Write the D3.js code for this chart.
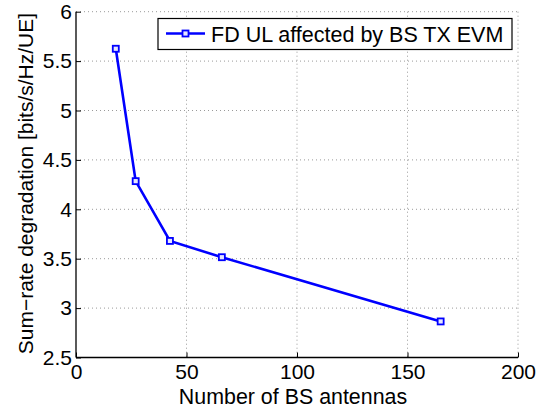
<!DOCTYPE html>
<html><head><meta charset="utf-8">
<script src="https://cdn.jsdelivr.net/npm/d3@7"></script>
<style>body{margin:0;background:#fff}svg{display:block}</style>
</head><body>
<svg id="c" width="538" height="412"></svg>
<script>
const antennas = [18, 27, 42.5, 66, 165];
const degradation = [5.625, 4.285, 3.68, 3.515, 2.865];
const xTicks = [0, 50, 100, 150, 200];
const yTicks = [2.5, 3, 3.5, 4, 4.5, 5, 5.5, 6];
const seriesName = "FD UL affected by BS TX EVM";
const xLabel = "Number of BS antennas";
const yLabel = "Sum\u2212rate degradation [bits/s/Hz/UE]";

const svg = d3.select("#c");
const L = 76, R = 518, T = 11.7, B = 357.5;
const x = d3.scaleLinear().domain([0, 200]).range([L, R]);
const y = d3.scaleLinear().domain([2.5, 6]).range([B, T]);
const font = "Liberation Sans, Arial, Helvetica, sans-serif";

// grid
const g = svg.append("g");
g.selectAll("line.gx").data(xTicks.slice(1)).join("line")
  .attr("x1", d => x(d)).attr("x2", d => x(d)).attr("y1", T).attr("y2", B)
  .attr("stroke", "#9a9a9a").attr("stroke-width", 1).attr("stroke-dasharray", "1,3");
g.selectAll("line.gy").data(yTicks.slice(1)).join("line")
  .attr("y1", d => y(d)).attr("y2", d => y(d)).attr("x1", L).attr("x2", R)
  .attr("stroke", "#9a9a9a").attr("stroke-width", 1).attr("stroke-dasharray", "1,3");

// axes
const xAxis = d3.axisBottom(x).tickValues(xTicks).tickSize(-5).tickPadding(7).tickFormat(d3.format("d"));
const yAxis = d3.axisLeft(y).tickValues(yTicks).tickSize(-5).tickPadding(4).tickFormat(d => d3.format("")(d));
const gx = svg.append("g").attr("transform", `translate(0,${B})`).call(xAxis);
const gy = svg.append("g").attr("transform", `translate(${L},0)`).call(yAxis);
[gx, gy].forEach(a => {
  a.select(".domain").attr("stroke", "#000").attr("stroke-width", 1.3);
  a.selectAll(".tick line").attr("stroke", "#000");
  a.selectAll(".tick text").attr("font-family", font).attr("font-size", 21).attr("fill", "#000");
});
gy.select(".domain").attr("d", `M0,${B}V${T}`);
gx.select(".domain").attr("d", `M${L},0H${R}`);

// labels
svg.append("text").attr("x", (L + R) / 2 - 4).attr("y", 403.5).attr("text-anchor", "middle")
  .attr("font-family", font).attr("font-size", 21.4).text(xLabel);
svg.append("text").attr("transform", `translate(33,${(T + B) / 2 - 1}) rotate(-90)`)
  .attr("text-anchor", "middle").attr("font-family", font).attr("font-size", 21).text(yLabel);

// line
const data = antennas.map((a, i) => [a, degradation[i]]);
svg.append("path").datum(data)
  .attr("d", d3.line().x(d => x(d[0])).y(d => y(d[1])))
  .attr("fill", "none").attr("stroke", "#0000ff").attr("stroke-width", 2.6);
svg.selectAll("rect.m").data(data).join("rect")
  .attr("x", d => x(d[0]) - 3).attr("y", d => y(d[1]) - 3)
  .attr("width", 6).attr("height", 6)
  .attr("fill", "#e6e6ff").attr("stroke", "#0000ff").attr("stroke-width", 1.8);

// legend
const lg = svg.append("g");
lg.append("rect").attr("x", 158).attr("y", 18.5).attr("width", 354).attr("height", 31)
  .attr("fill", "#fff").attr("stroke", "#000").attr("stroke-width", 1.2);
lg.append("line").attr("x1", 166).attr("x2", 205).attr("y1", 33.5).attr("y2", 33.5)
  .attr("stroke", "#0000ff").attr("stroke-width", 2.6);
lg.append("rect").attr("x", 182.5).attr("y", 30.5).attr("width", 6).attr("height", 6)
  .attr("fill", "#e6e6ff").attr("stroke", "#0000ff").attr("stroke-width", 1.8);
lg.append("text").attr("x", 211).attr("y", 41.5).attr("font-family", font).attr("font-size", 21.5)
  .text(seriesName);
</script>
</body></html>
